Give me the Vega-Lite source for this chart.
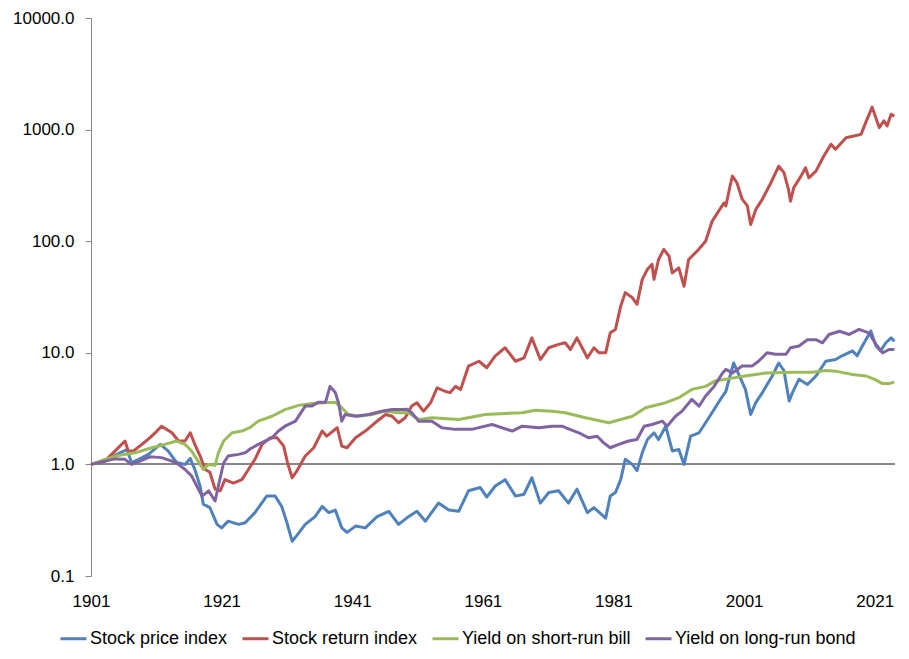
{
  "$schema": "https://vega.github.io/schema/vega-lite/v6.json",
  "width": 804,
  "height": 558,
  "autosize": {"type": "none"},
  "padding": {"left": 91, "top": 18, "right": 14, "bottom": 83},
  "config": {"view": {"stroke": null}, "font": "Liberation Sans"},
  "data": {
    "values": [
      {"year":1901.0,"series":"Stock price index","value":1.0},{"year":1903.1,"series":"Stock price index","value":1.07},{"year":1905.2,"series":"Stock price index","value":1.25},{"year":1906.5,"series":"Stock price index","value":1.36},{"year":1907.2,"series":"Stock price index","value":1.04},{"year":1908.3,"series":"Stock price index","value":1.11},{"year":1909.8,"series":"Stock price index","value":1.23},{"year":1911.6,"series":"Stock price index","value":1.51},{"year":1912.8,"series":"Stock price index","value":1.32},{"year":1914.1,"series":"Stock price index","value":1.04},{"year":1915.4,"series":"Stock price index","value":1.0},{"year":1916.2,"series":"Stock price index","value":1.13},{"year":1916.9,"series":"Stock price index","value":0.9},{"year":1917.7,"series":"Stock price index","value":0.64},{"year":1918.2,"series":"Stock price index","value":0.44},{"year":1919.2,"series":"Stock price index","value":0.41},{"year":1920.3,"series":"Stock price index","value":0.29},{"year":1921.0,"series":"Stock price index","value":0.27},{"year":1922.0,"series":"Stock price index","value":0.31},{"year":1923.6,"series":"Stock price index","value":0.29},{"year":1924.6,"series":"Stock price index","value":0.3},{"year":1926.1,"series":"Stock price index","value":0.37},{"year":1927.9,"series":"Stock price index","value":0.52},{"year":1929.2,"series":"Stock price index","value":0.52},{"year":1930.2,"series":"Stock price index","value":0.42},{"year":1931.0,"series":"Stock price index","value":0.3},{"year":1931.8,"series":"Stock price index","value":0.205},{"year":1932.5,"series":"Stock price index","value":0.23},{"year":1933.8,"series":"Stock price index","value":0.29},{"year":1935.3,"series":"Stock price index","value":0.34},{"year":1936.4,"series":"Stock price index","value":0.42},{"year":1937.4,"series":"Stock price index","value":0.37},{"year":1938.4,"series":"Stock price index","value":0.39},{"year":1939.4,"series":"Stock price index","value":0.27},{"year":1940.2,"series":"Stock price index","value":0.246},{"year":1941.5,"series":"Stock price index","value":0.28},{"year":1943.0,"series":"Stock price index","value":0.27},{"year":1944.8,"series":"Stock price index","value":0.34},{"year":1946.6,"series":"Stock price index","value":0.38},{"year":1948.1,"series":"Stock price index","value":0.29},{"year":1949.6,"series":"Stock price index","value":0.34},{"year":1950.9,"series":"Stock price index","value":0.38},{"year":1952.2,"series":"Stock price index","value":0.31},{"year":1954.2,"series":"Stock price index","value":0.45},{"year":1955.8,"series":"Stock price index","value":0.39},{"year":1957.3,"series":"Stock price index","value":0.38},{"year":1958.8,"series":"Stock price index","value":0.58},{"year":1960.6,"series":"Stock price index","value":0.62},{"year":1961.6,"series":"Stock price index","value":0.51},{"year":1962.9,"series":"Stock price index","value":0.64},{"year":1964.4,"series":"Stock price index","value":0.73},{"year":1966.0,"series":"Stock price index","value":0.52},{"year":1967.3,"series":"Stock price index","value":0.54},{"year":1968.5,"series":"Stock price index","value":0.76},{"year":1969.8,"series":"Stock price index","value":0.45},{"year":1971.1,"series":"Stock price index","value":0.56},{"year":1972.6,"series":"Stock price index","value":0.58},{"year":1974.1,"series":"Stock price index","value":0.45},{"year":1975.4,"series":"Stock price index","value":0.6},{"year":1977.0,"series":"Stock price index","value":0.37},{"year":1978.0,"series":"Stock price index","value":0.41},{"year":1979.8,"series":"Stock price index","value":0.33},{"year":1980.5,"series":"Stock price index","value":0.52},{"year":1981.3,"series":"Stock price index","value":0.56},{"year":1982.1,"series":"Stock price index","value":0.73},{"year":1982.8,"series":"Stock price index","value":1.11},{"year":1983.9,"series":"Stock price index","value":1.0},{"year":1984.6,"series":"Stock price index","value":0.88},{"year":1985.4,"series":"Stock price index","value":1.27},{"year":1986.2,"series":"Stock price index","value":1.67},{"year":1987.2,"series":"Stock price index","value":1.92},{"year":1987.9,"series":"Stock price index","value":1.67},{"year":1989.0,"series":"Stock price index","value":2.2},{"year":1990.0,"series":"Stock price index","value":1.32},{"year":1991.0,"series":"Stock price index","value":1.36},{"year":1991.8,"series":"Stock price index","value":1.0},{"year":1992.8,"series":"Stock price index","value":1.79},{"year":1994.1,"series":"Stock price index","value":1.92},{"year":1995.1,"series":"Stock price index","value":2.36},{"year":1996.4,"series":"Stock price index","value":3.1},{"year":1997.7,"series":"Stock price index","value":4.1},{"year":1998.2,"series":"Stock price index","value":4.5},{"year":1998.7,"series":"Stock price index","value":5.8},{"year":1999.4,"series":"Stock price index","value":8.1},{"year":2000.5,"series":"Stock price index","value":5.8},{"year":2001.2,"series":"Stock price index","value":4.7},{"year":2002.0,"series":"Stock price index","value":2.8},{"year":2002.8,"series":"Stock price index","value":3.6},{"year":2003.8,"series":"Stock price index","value":4.4},{"year":2005.3,"series":"Stock price index","value":6.2},{"year":2006.3,"series":"Stock price index","value":8.1},{"year":2007.1,"series":"Stock price index","value":6.9},{"year":2007.9,"series":"Stock price index","value":3.7},{"year":2008.4,"series":"Stock price index","value":4.4},{"year":2009.4,"series":"Stock price index","value":5.8},{"year":2010.7,"series":"Stock price index","value":5.2},{"year":2012.0,"series":"Stock price index","value":6.2},{"year":2013.5,"series":"Stock price index","value":8.4},{"year":2015.0,"series":"Stock price index","value":8.7},{"year":2016.0,"series":"Stock price index","value":9.4},{"year":2017.6,"series":"Stock price index","value":10.4},{"year":2018.3,"series":"Stock price index","value":9.4},{"year":2019.1,"series":"Stock price index","value":11.5},{"year":2020.4,"series":"Stock price index","value":15.7},{"year":2021.2,"series":"Stock price index","value":11.5},{"year":2021.9,"series":"Stock price index","value":10.4},{"year":2022.7,"series":"Stock price index","value":12.3},{"year":2023.5,"series":"Stock price index","value":13.6},{"year":2024.0,"series":"Stock price index","value":12.7},

      {"year":1901.0,"series":"Stock return index","value":1.0},{"year":1903.1,"series":"Stock return index","value":1.07},{"year":1904.7,"series":"Stock return index","value":1.32},{"year":1906.2,"series":"Stock return index","value":1.62},{"year":1906.7,"series":"Stock return index","value":1.32},{"year":1907.5,"series":"Stock return index","value":1.32},{"year":1908.8,"series":"Stock return index","value":1.51},{"year":1910.0,"series":"Stock return index","value":1.73},{"year":1911.1,"series":"Stock return index","value":1.99},{"year":1911.8,"series":"Stock return index","value":2.2},{"year":1913.4,"series":"Stock return index","value":1.92},{"year":1914.4,"series":"Stock return index","value":1.62},{"year":1915.4,"series":"Stock return index","value":1.62},{"year":1916.2,"series":"Stock return index","value":1.92},{"year":1916.9,"series":"Stock return index","value":1.51},{"year":1917.7,"series":"Stock return index","value":1.19},{"year":1918.5,"series":"Stock return index","value":0.9},{"year":1919.2,"series":"Stock return index","value":0.85},{"year":1920.0,"series":"Stock return index","value":0.6},{"year":1920.8,"series":"Stock return index","value":0.58},{"year":1921.5,"series":"Stock return index","value":0.73},{"year":1922.8,"series":"Stock return index","value":0.68},{"year":1924.1,"series":"Stock return index","value":0.73},{"year":1924.6,"series":"Stock return index","value":0.81},{"year":1925.1,"series":"Stock return index","value":0.9},{"year":1926.1,"series":"Stock return index","value":1.11},{"year":1927.2,"series":"Stock return index","value":1.51},{"year":1928.4,"series":"Stock return index","value":1.73},{"year":1929.5,"series":"Stock return index","value":1.73},{"year":1930.5,"series":"Stock return index","value":1.46},{"year":1931.1,"series":"Stock return index","value":1.03},{"year":1931.8,"series":"Stock return index","value":0.76},{"year":1932.5,"series":"Stock return index","value":0.87},{"year":1933.8,"series":"Stock return index","value":1.19},{"year":1935.1,"series":"Stock return index","value":1.41},{"year":1936.4,"series":"Stock return index","value":1.99},{"year":1937.1,"series":"Stock return index","value":1.79},{"year":1938.7,"series":"Stock return index","value":2.13},{"year":1939.4,"series":"Stock return index","value":1.46},{"year":1940.2,"series":"Stock return index","value":1.41},{"year":1941.5,"series":"Stock return index","value":1.73},{"year":1943.0,"series":"Stock return index","value":1.99},{"year":1944.5,"series":"Stock return index","value":2.36},{"year":1946.1,"series":"Stock return index","value":2.8},{"year":1947.1,"series":"Stock return index","value":2.7},{"year":1948.1,"series":"Stock return index","value":2.36},{"year":1949.1,"series":"Stock return index","value":2.62},{"year":1950.1,"series":"Stock return index","value":3.33},{"year":1950.9,"series":"Stock return index","value":3.57},{"year":1951.9,"series":"Stock return index","value":3.0},{"year":1953.0,"series":"Stock return index","value":3.57},{"year":1954.0,"series":"Stock return index","value":4.86},{"year":1955.3,"series":"Stock return index","value":4.5},{"year":1956.0,"series":"Stock return index","value":4.4},{"year":1956.8,"series":"Stock return index","value":5.0},{"year":1957.6,"series":"Stock return index","value":4.7},{"year":1958.8,"series":"Stock return index","value":7.6},{"year":1960.4,"series":"Stock return index","value":8.4},{"year":1961.6,"series":"Stock return index","value":7.35},{"year":1962.9,"series":"Stock return index","value":9.4},{"year":1964.4,"series":"Stock return index","value":11.1},{"year":1966.0,"series":"Stock return index","value":8.4},{"year":1967.3,"series":"Stock return index","value":9.0},{"year":1968.5,"series":"Stock return index","value":13.6},{"year":1969.8,"series":"Stock return index","value":8.7},{"year":1971.1,"series":"Stock return index","value":11.1},{"year":1972.6,"series":"Stock return index","value":11.9},{"year":1973.6,"series":"Stock return index","value":12.3},{"year":1974.4,"series":"Stock return index","value":10.7},{"year":1975.4,"series":"Stock return index","value":13.6},{"year":1976.2,"series":"Stock return index","value":11.1},{"year":1977.0,"series":"Stock return index","value":9.0},{"year":1978.0,"series":"Stock return index","value":11.1},{"year":1978.8,"series":"Stock return index","value":10.0},{"year":1979.8,"series":"Stock return index","value":10.0},{"year":1980.5,"series":"Stock return index","value":15.1},{"year":1981.3,"series":"Stock return index","value":16.2},{"year":1982.1,"series":"Stock return index","value":26.2},{"year":1982.8,"series":"Stock return index","value":34.6},{"year":1983.9,"series":"Stock return index","value":31.1},{"year":1984.6,"series":"Stock return index","value":27.2},{"year":1985.4,"series":"Stock return index","value":45.5},{"year":1986.2,"series":"Stock return index","value":56},{"year":1986.9,"series":"Stock return index","value":62},{"year":1987.2,"series":"Stock return index","value":45.5},{"year":1987.9,"series":"Stock return index","value":68.6},{"year":1988.7,"series":"Stock return index","value":84.5},{"year":1989.5,"series":"Stock return index","value":73.5},{"year":1990.0,"series":"Stock return index","value":52},{"year":1991.0,"series":"Stock return index","value":57.7},{"year":1991.8,"series":"Stock return index","value":39.4},{"year":1992.5,"series":"Stock return index","value":68.6},{"year":1993.8,"series":"Stock return index","value":81.4},{"year":1995.1,"series":"Stock return index","value":100},{"year":1996.1,"series":"Stock return index","value":151},{"year":1997.1,"series":"Stock return index","value":186},{"year":1997.9,"series":"Stock return index","value":220},{"year":1998.2,"series":"Stock return index","value":207},{"year":1998.9,"series":"Stock return index","value":322},{"year":1999.2,"series":"Stock return index","value":383},{"year":1999.9,"series":"Stock return index","value":334},{"year":2000.7,"series":"Stock return index","value":238},{"year":2001.5,"series":"Stock return index","value":207},{"year":2002.0,"series":"Stock return index","value":141},{"year":2002.8,"series":"Stock return index","value":193},{"year":2003.8,"series":"Stock return index","value":238},{"year":2005.1,"series":"Stock return index","value":334},{"year":2006.3,"series":"Stock return index","value":470},{"year":2007.1,"series":"Stock return index","value":412},{"year":2007.8,"series":"Stock return index","value":290},{"year":2008.1,"series":"Stock return index","value":228},{"year":2008.6,"series":"Stock return index","value":302},{"year":2009.7,"series":"Stock return index","value":383},{"year":2010.4,"series":"Stock return index","value":455},{"year":2010.9,"series":"Stock return index","value":370},{"year":2012.0,"series":"Stock return index","value":424},{"year":2013.2,"series":"Stock return index","value":580},{"year":2014.3,"series":"Stock return index","value":737},{"year":2015.0,"series":"Stock return index","value":667},{"year":2016.6,"series":"Stock return index","value":846},{"year":2017.8,"series":"Stock return index","value":877},{"year":2018.9,"series":"Stock return index","value":906},{"year":2019.6,"series":"Stock return index","value":1150},{"year":2020.6,"series":"Stock return index","value":1590},{"year":2021.7,"series":"Stock return index","value":1040},{"year":2022.4,"series":"Stock return index","value":1200},{"year":2022.9,"series":"Stock return index","value":1080},{"year":2023.5,"series":"Stock return index","value":1370},{"year":2024.0,"series":"Stock return index","value":1320},

      {"year":1901.0,"series":"Yield on short-run bill","value":1.0},{"year":1903.1,"series":"Yield on short-run bill","value":1.11},{"year":1905.2,"series":"Yield on short-run bill","value":1.2},{"year":1907.7,"series":"Yield on short-run bill","value":1.27},{"year":1910.3,"series":"Yield on short-run bill","value":1.41},{"year":1912.3,"series":"Yield on short-run bill","value":1.51},{"year":1914.1,"series":"Yield on short-run bill","value":1.62},{"year":1915.4,"series":"Yield on short-run bill","value":1.51},{"year":1916.4,"series":"Yield on short-run bill","value":1.32},{"year":1917.4,"series":"Yield on short-run bill","value":1.07},{"year":1918.2,"series":"Yield on short-run bill","value":0.9},{"year":1919.0,"series":"Yield on short-run bill","value":1.0},{"year":1920.0,"series":"Yield on short-run bill","value":0.98},{"year":1920.5,"series":"Yield on short-run bill","value":1.27},{"year":1921.3,"series":"Yield on short-run bill","value":1.62},{"year":1922.6,"series":"Yield on short-run bill","value":1.92},{"year":1924.1,"series":"Yield on short-run bill","value":1.99},{"year":1925.4,"series":"Yield on short-run bill","value":2.15},{"year":1926.6,"series":"Yield on short-run bill","value":2.44},{"year":1928.7,"series":"Yield on short-run bill","value":2.7},{"year":1930.7,"series":"Yield on short-run bill","value":3.1},{"year":1932.8,"series":"Yield on short-run bill","value":3.38},{"year":1934.8,"series":"Yield on short-run bill","value":3.52},{"year":1936.9,"series":"Yield on short-run bill","value":3.57},{"year":1938.4,"series":"Yield on short-run bill","value":3.6},{"year":1939.4,"series":"Yield on short-run bill","value":3.22},{"year":1940.4,"series":"Yield on short-run bill","value":2.8},{"year":1942.0,"series":"Yield on short-run bill","value":2.7},{"year":1944.0,"series":"Yield on short-run bill","value":2.8},{"year":1946.1,"series":"Yield on short-run bill","value":3.0},{"year":1948.1,"series":"Yield on short-run bill","value":2.9},{"year":1949.5,"series":"Yield on short-run bill","value":2.92},{"year":1951.2,"series":"Yield on short-run bill","value":2.53},{"year":1953.2,"series":"Yield on short-run bill","value":2.62},{"year":1957.3,"series":"Yield on short-run bill","value":2.53},{"year":1961.4,"series":"Yield on short-run bill","value":2.8},{"year":1964.4,"series":"Yield on short-run bill","value":2.86},{"year":1967.0,"series":"Yield on short-run bill","value":2.9},{"year":1969.0,"series":"Yield on short-run bill","value":3.06},{"year":1971.6,"series":"Yield on short-run bill","value":3.0},{"year":1973.6,"series":"Yield on short-run bill","value":2.9},{"year":1976.7,"series":"Yield on short-run bill","value":2.62},{"year":1980.3,"series":"Yield on short-run bill","value":2.36},{"year":1983.9,"series":"Yield on short-run bill","value":2.7},{"year":1985.9,"series":"Yield on short-run bill","value":3.22},{"year":1989.0,"series":"Yield on short-run bill","value":3.57},{"year":1991.0,"series":"Yield on short-run bill","value":3.96},{"year":1993.0,"series":"Yield on short-run bill","value":4.7},{"year":1995.1,"series":"Yield on short-run bill","value":5.0},{"year":1996.6,"series":"Yield on short-run bill","value":5.6},{"year":1998.9,"series":"Yield on short-run bill","value":5.9},{"year":2001.2,"series":"Yield on short-run bill","value":6.2},{"year":2004.3,"series":"Yield on short-run bill","value":6.6},{"year":2008.4,"series":"Yield on short-run bill","value":6.7},{"year":2011.4,"series":"Yield on short-run bill","value":6.7},{"year":2013.5,"series":"Yield on short-run bill","value":6.95},{"year":2015.0,"series":"Yield on short-run bill","value":6.85},{"year":2017.6,"series":"Yield on short-run bill","value":6.4},{"year":2019.6,"series":"Yield on short-run bill","value":6.2},{"year":2020.9,"series":"Yield on short-run bill","value":5.8},{"year":2022.2,"series":"Yield on short-run bill","value":5.3},{"year":2023.2,"series":"Yield on short-run bill","value":5.3},{"year":2024.0,"series":"Yield on short-run bill","value":5.46},

      {"year":1901.0,"series":"Yield on long-run bond","value":1.0},{"year":1903.1,"series":"Yield on long-run bond","value":1.07},{"year":1904.7,"series":"Yield on long-run bond","value":1.12},{"year":1906.2,"series":"Yield on long-run bond","value":1.11},{"year":1907.2,"series":"Yield on long-run bond","value":1.0},{"year":1908.5,"series":"Yield on long-run bond","value":1.07},{"year":1910.0,"series":"Yield on long-run bond","value":1.17},{"year":1911.8,"series":"Yield on long-run bond","value":1.15},{"year":1913.4,"series":"Yield on long-run bond","value":1.07},{"year":1914.4,"series":"Yield on long-run bond","value":1.0},{"year":1915.4,"series":"Yield on long-run bond","value":0.9},{"year":1916.4,"series":"Yield on long-run bond","value":0.79},{"year":1917.2,"series":"Yield on long-run bond","value":0.64},{"year":1918.0,"series":"Yield on long-run bond","value":0.52},{"year":1919.0,"series":"Yield on long-run bond","value":0.58},{"year":1920.0,"series":"Yield on long-run bond","value":0.47},{"year":1920.5,"series":"Yield on long-run bond","value":0.64},{"year":1921.3,"series":"Yield on long-run bond","value":1.03},{"year":1922.0,"series":"Yield on long-run bond","value":1.19},{"year":1923.6,"series":"Yield on long-run bond","value":1.23},{"year":1924.6,"series":"Yield on long-run bond","value":1.27},{"year":1925.4,"series":"Yield on long-run bond","value":1.38},{"year":1926.6,"series":"Yield on long-run bond","value":1.51},{"year":1928.7,"series":"Yield on long-run bond","value":1.73},{"year":1929.7,"series":"Yield on long-run bond","value":1.99},{"year":1930.7,"series":"Yield on long-run bond","value":2.2},{"year":1932.3,"series":"Yield on long-run bond","value":2.44},{"year":1933.8,"series":"Yield on long-run bond","value":3.33},{"year":1934.8,"series":"Yield on long-run bond","value":3.33},{"year":1935.8,"series":"Yield on long-run bond","value":3.6},{"year":1936.9,"series":"Yield on long-run bond","value":3.6},{"year":1937.6,"series":"Yield on long-run bond","value":5.0},{"year":1938.4,"series":"Yield on long-run bond","value":4.4},{"year":1938.9,"series":"Yield on long-run bond","value":3.57},{"year":1939.4,"series":"Yield on long-run bond","value":2.44},{"year":1939.9,"series":"Yield on long-run bond","value":2.8},{"year":1941.5,"series":"Yield on long-run bond","value":2.7},{"year":1943.5,"series":"Yield on long-run bond","value":2.8},{"year":1945.5,"series":"Yield on long-run bond","value":3.0},{"year":1947.1,"series":"Yield on long-run bond","value":3.1},{"year":1948.6,"series":"Yield on long-run bond","value":3.1},{"year":1949.4,"series":"Yield on long-run bond","value":3.12},{"year":1950.1,"series":"Yield on long-run bond","value":2.9},{"year":1951.2,"series":"Yield on long-run bond","value":2.44},{"year":1953.2,"series":"Yield on long-run bond","value":2.44},{"year":1954.7,"series":"Yield on long-run bond","value":2.13},{"year":1956.8,"series":"Yield on long-run bond","value":2.06},{"year":1959.3,"series":"Yield on long-run bond","value":2.06},{"year":1962.4,"series":"Yield on long-run bond","value":2.28},{"year":1965.5,"series":"Yield on long-run bond","value":1.99},{"year":1967.0,"series":"Yield on long-run bond","value":2.2},{"year":1969.6,"series":"Yield on long-run bond","value":2.13},{"year":1971.6,"series":"Yield on long-run bond","value":2.2},{"year":1973.1,"series":"Yield on long-run bond","value":2.2},{"year":1974.4,"series":"Yield on long-run bond","value":2.05},{"year":1975.7,"series":"Yield on long-run bond","value":1.92},{"year":1977.2,"series":"Yield on long-run bond","value":1.73},{"year":1978.5,"series":"Yield on long-run bond","value":1.79},{"year":1979.5,"series":"Yield on long-run bond","value":1.56},{"year":1980.5,"series":"Yield on long-run bond","value":1.41},{"year":1981.8,"series":"Yield on long-run bond","value":1.51},{"year":1983.3,"series":"Yield on long-run bond","value":1.62},{"year":1984.6,"series":"Yield on long-run bond","value":1.67},{"year":1985.7,"series":"Yield on long-run bond","value":2.2},{"year":1986.9,"series":"Yield on long-run bond","value":2.28},{"year":1988.5,"series":"Yield on long-run bond","value":2.44},{"year":1989.2,"series":"Yield on long-run bond","value":2.2},{"year":1990.5,"series":"Yield on long-run bond","value":2.7},{"year":1991.5,"series":"Yield on long-run bond","value":3.0},{"year":1993.0,"series":"Yield on long-run bond","value":3.83},{"year":1994.1,"series":"Yield on long-run bond","value":3.33},{"year":1995.1,"series":"Yield on long-run bond","value":4.1},{"year":1996.4,"series":"Yield on long-run bond","value":5.0},{"year":1997.7,"series":"Yield on long-run bond","value":6.6},{"year":1998.2,"series":"Yield on long-run bond","value":7.1},{"year":1999.2,"series":"Yield on long-run bond","value":6.6},{"year":2000.7,"series":"Yield on long-run bond","value":7.6},{"year":2002.2,"series":"Yield on long-run bond","value":7.6},{"year":2003.2,"series":"Yield on long-run bond","value":8.4},{"year":2004.5,"series":"Yield on long-run bond","value":10.0},{"year":2005.8,"series":"Yield on long-run bond","value":9.7},{"year":2007.4,"series":"Yield on long-run bond","value":9.7},{"year":2008.1,"series":"Yield on long-run bond","value":11.1},{"year":2009.4,"series":"Yield on long-run bond","value":11.5},{"year":2010.7,"series":"Yield on long-run bond","value":13.1},{"year":2012.0,"series":"Yield on long-run bond","value":13.1},{"year":2013.0,"series":"Yield on long-run bond","value":12.3},{"year":2014.0,"series":"Yield on long-run bond","value":14.6},{"year":2015.6,"series":"Yield on long-run bond","value":15.6},{"year":2017.1,"series":"Yield on long-run bond","value":14.6},{"year":2018.6,"series":"Yield on long-run bond","value":16.2},{"year":2020.1,"series":"Yield on long-run bond","value":15.1},{"year":2021.2,"series":"Yield on long-run bond","value":11.9},{"year":2022.2,"series":"Yield on long-run bond","value":10.0},{"year":2023.2,"series":"Yield on long-run bond","value":10.7},{"year":2024.0,"series":"Yield on long-run bond","value":10.7}
    ]
  },
  "layer": [
    {
      "mark": {"type": "rule", "color": "#868686", "strokeWidth": 1.3},
      "encoding": {"y": {"datum": 1, "type": "quantitative"}}
    },
    {
      "mark": {"type": "line", "strokeWidth": 3, "strokeJoin": "round"},
      "encoding": {
        "x": {
          "field": "year", "type": "quantitative",
          "scale": {"domain": [1901, 2024.1], "nice": false, "zero": false},
          "axis": {"values": [1901, 1921, 1941, 1961, 1981, 2001, 2021], "format": "d", "title": null, "grid": false, "domain": false, "ticks": false, "tickSize": 0, "labelFlush": false, "labelOverlap": false, "labelPadding": 17, "labelFontSize": 17, "labelColor": "#000000", "labelFont": "Liberation Sans"}
        },
        "y": {
          "field": "value", "type": "quantitative",
          "scale": {"type": "log", "domain": [0.1, 10000], "nice": false},
          "axis": {"values": [0.1, 1, 10, 100, 1000, 10000], "format": ".1f", "title": null, "grid": false, "domainColor": "#868686", "tickColor": "#868686", "tickSize": 6, "labelPadding": 11, "labelFontSize": 17, "labelColor": "#000000", "labelFont": "Liberation Sans", "labelFlush": false}
        },
        "color": {
          "field": "series", "type": "nominal",
          "scale": {"domain": ["Stock price index", "Stock return index", "Yield on short-run bill", "Yield on long-run bond"], "range": ["#4F81BD", "#C0504D", "#9BBB59", "#8064A2"]},
          "legend": {"orient": "none", "legendX": -32, "legendY": 606, "direction": "horizontal", "title": null, "symbolType": "stroke", "symbolStrokeWidth": 3, "symbolSize": 676, "labelFontSize": 18, "labelColor": "#000000", "labelFont": "Liberation Sans", "labelLimit": 300, "labelOffset": 2, "columnPadding": 8}
        }
      }
    }
  ]
}
